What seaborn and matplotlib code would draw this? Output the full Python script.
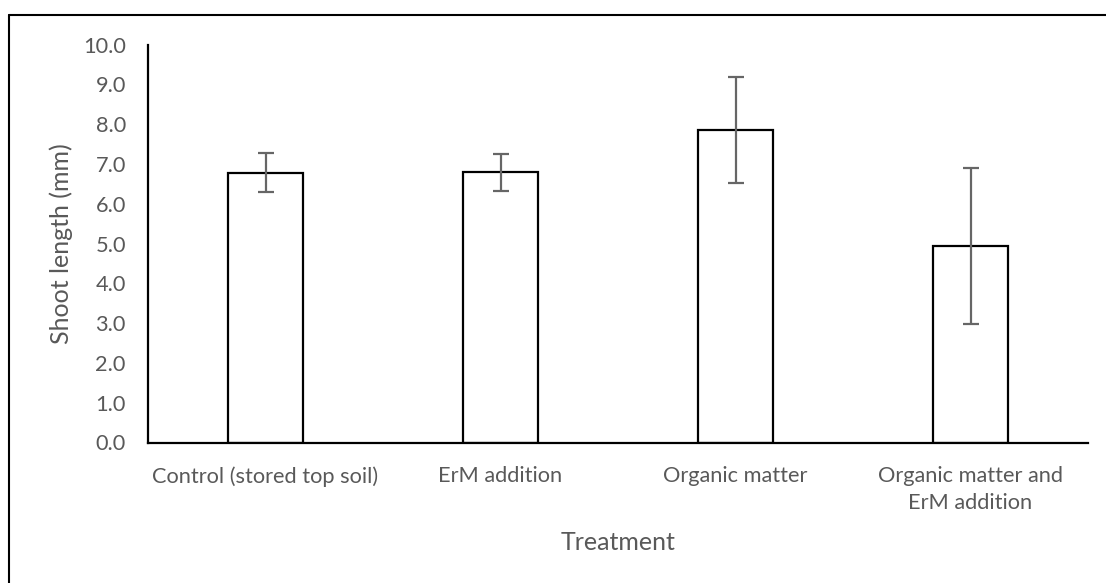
import matplotlib
matplotlib.use("Agg")
import matplotlib.pyplot as plt
import seaborn as sns
import pandas as pd
from matplotlib.lines import Line2D

categories = ["Control (stored top soil)", "ErM addition", "Organic matter",
              "Organic matter and\nErM addition"]
shoot_length = [6.78, 6.79, 7.85, 4.93]
error = [0.49, 0.47, 1.33, 1.96]
y_ticks = [0, 1, 2, 3, 4, 5, 6, 7, 8, 9, 10]

df = pd.DataFrame({"Treatment": categories, "Shoot": shoot_length, "Err": error})

sns.set_theme(style="white")
plt.rcParams['font.family'] = ['Lato', 'DejaVu Sans']

fig = plt.figure(figsize=(11.06, 5.83), dpi=100)
ax = fig.add_axes([148/1106, 1-442.5/583, (1088-148)/1106, (442.5-44.7)/583])

sns.barplot(data=df, x="Treatment", y="Shoot", ax=ax, color="white",
            edgecolor="black", linewidth=1.6, width=0.315, errorbar=None)
ax.errorbar(x=list(range(len(categories))), y=df["Shoot"], yerr=df["Err"],
            fmt="none", ecolor="#666666", elinewidth=1.6, capsize=5.5, capthick=1.6)

ax.set_ylim(0, 10)
ax.set_xlim(-0.5, len(categories) - 0.5)
ax.set_yticks(y_ticks)
ax.set_yticklabels([f"{v:.1f}" for v in y_ticks])
ax.tick_params(axis="both", length=0, labelsize=15.7, labelcolor="#595959")
ax.tick_params(axis="y", pad=16)
ax.tick_params(axis="x", pad=17)
for lbl in ax.get_xticklabels():
    lbl.set_linespacing(1.45)
for s in ["top", "right"]:
    ax.spines[s].set_visible(False)
for s in ["left", "bottom"]:
    ax.spines[s].set_color("black")
    ax.spines[s].set_linewidth(1.6)
ax.set_xlabel("Treatment", fontsize=18, color="#595959", labelpad=13)
ax.set_ylabel("Shoot length (mm)", fontsize=18, color="#595959", labelpad=7)

# outer border (left and top edges visible)
fig.add_artist(Line2D([9/1106, 9/1106], [0, 1-15/583], transform=fig.transFigure,
                      color="black", linewidth=1.5))
fig.add_artist(Line2D([9/1106, 1], [1-15/583, 1-15/583], transform=fig.transFigure,
                      color="black", linewidth=1.5))

fig.savefig("out.png", dpi=100)
